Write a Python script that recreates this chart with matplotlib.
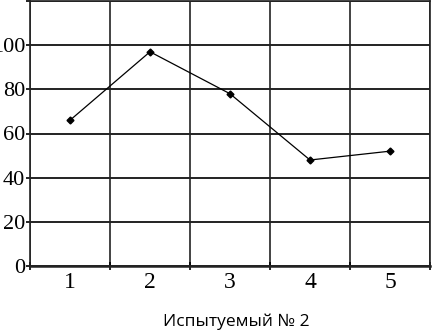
import matplotlib
matplotlib.use("Agg")
import matplotlib.pyplot as plt
import numpy as np

# данные
subjects = ["1", "2", "3", "4", "5"]
values = [66, 97, 78, 48, 52]
yticks = [0, 20, 40, 60, 80, 100]

W, H = 433, 333
fig = plt.figure(figsize=(W / 100, H / 100), dpi=100)
ax = fig.add_axes([30 / W, 1 - 266 / H, 400 / W, 265 / H])

x = np.arange(len(subjects))
ax.plot(x, values, color="black", lw=0.9, marker="D", ms=3.5,
        mfc="black", mec="black", zorder=3)

ax.set_xlim(-0.5, len(subjects) - 0.5)
ax.set_ylim(0, 120)

# вертикальные линии на границах категорий
ax.set_xticks(x)
ax.set_xticklabels(subjects, family="Liberation Serif", fontsize=17)
ax.set_xticks(np.arange(len(subjects) + 1) - 0.5, minor=True)
ax.tick_params(axis="x", which="major", length=0, pad=4)
ax.tick_params(axis="x", which="minor", length=6, direction="inout", width=1.2)
ax.grid(True, axis="x", which="minor", color="#222222", lw=1.2)

ax.set_yticks(yticks + [120])
ax.set_yticklabels([str(v) for v in yticks] + [""], family="Liberation Serif",
                   fontsize=16)
ax.tick_params(axis="y", length=3, width=1.2, pad=0.5)
ax.grid(True, axis="y", which="major", color="#222222", lw=1.4)

for s in ax.spines.values():
    s.set_color("#222222")
    s.set_linewidth(1.2)
ax.spines["bottom"].set_linewidth(1.8)

fig.text(236 / W, 1 - 322 / H, "Испытуемый № 2", ha="center", va="center",
         family="Open Sans", fontsize=12.5)

fig.savefig("out.png", dpi=100)
